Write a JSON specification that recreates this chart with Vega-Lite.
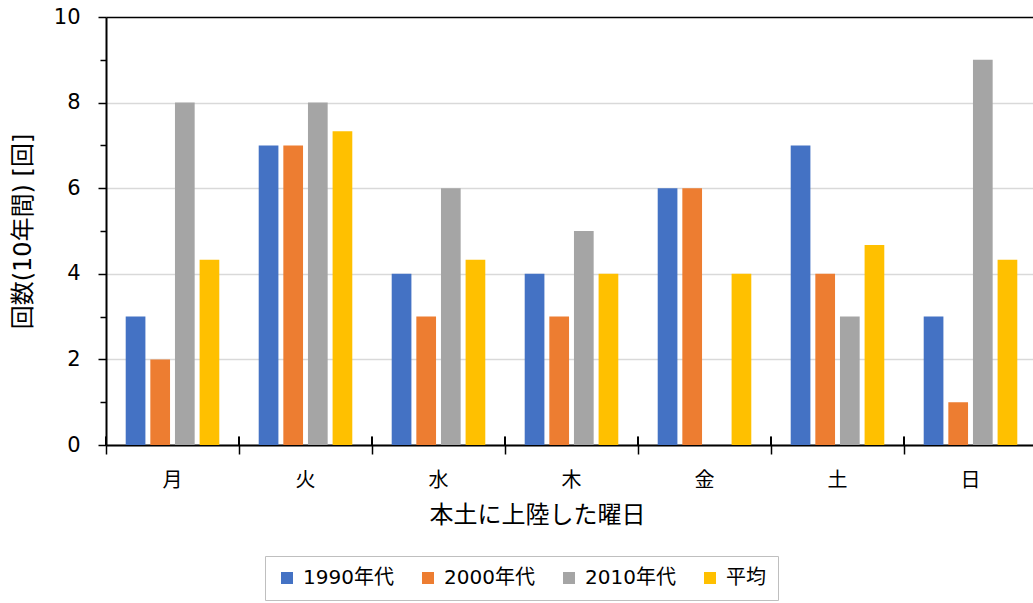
{
  "$schema": "https://vega.github.io/schema/vega-lite/v6.json",
  "description": "本土に上陸した曜日別の回数 (10年間)",
  "width": 931,
  "height": 428,
  "padding": {"left": 11, "top": 6, "right": 0, "bottom": 0},
  "config": {
    "view": {"stroke": null},
    "font": "DejaVu Sans, Noto Sans CJK JP",
    "axis": {"labelColor": "#000000", "titleColor": "#000000", "labelFontSize": 21, "titleFontSize": 24, "titleFontWeight": "normal", "domainColor": "#000000", "domainWidth": 2, "tickColor": "#000000", "tickWidth": 1.5},
    "legend": {"labelColor": "#000000", "labelFontSize": 20}
  },
  "data": {
    "values": [
      {"day": "月", "series": "1990年代", "count": 3},
      {"day": "月", "series": "2000年代", "count": 2},
      {"day": "月", "series": "2010年代", "count": 8},
      {"day": "月", "series": "平均", "count": 4.33},
      {"day": "火", "series": "1990年代", "count": 7},
      {"day": "火", "series": "2000年代", "count": 7},
      {"day": "火", "series": "2010年代", "count": 8},
      {"day": "火", "series": "平均", "count": 7.33},
      {"day": "水", "series": "1990年代", "count": 4},
      {"day": "水", "series": "2000年代", "count": 3},
      {"day": "水", "series": "2010年代", "count": 6},
      {"day": "水", "series": "平均", "count": 4.33},
      {"day": "木", "series": "1990年代", "count": 4},
      {"day": "木", "series": "2000年代", "count": 3},
      {"day": "木", "series": "2010年代", "count": 5},
      {"day": "木", "series": "平均", "count": 4},
      {"day": "金", "series": "1990年代", "count": 6},
      {"day": "金", "series": "2000年代", "count": 6},
      {"day": "金", "series": "2010年代", "count": 0},
      {"day": "金", "series": "平均", "count": 4},
      {"day": "土", "series": "1990年代", "count": 7},
      {"day": "土", "series": "2000年代", "count": 4},
      {"day": "土", "series": "2010年代", "count": 3},
      {"day": "土", "series": "平均", "count": 4.67},
      {"day": "日", "series": "1990年代", "count": 3},
      {"day": "日", "series": "2000年代", "count": 1},
      {"day": "日", "series": "2010年代", "count": 9},
      {"day": "日", "series": "平均", "count": 4.33}
    ]
  },
  "layer": [
    {
      "mark": {"type": "bar"},
      "encoding": {
        "x": {
          "field": "day",
          "type": "nominal",
          "sort": ["月", "火", "水", "木", "金", "土", "日"],
          "scale": {"paddingInner": 0, "paddingOuter": 0},
          "axis": {
            "title": "本土に上陸した曜日",
            "labelAngle": 0,
            "labelFontSize": 20,
            "bandPosition": 0,
            "tickSize": 9,
            "labelPadding": 16,
            "titlePadding": 13,
            "titleX": 431,
            "titleAnchor": null,
            "titleAlign": "center"
          }
        },
        "xOffset": {
          "field": "series",
          "type": "nominal",
          "sort": ["1990年代", "2000年代", "2010年代", "平均"],
          "scale": {"paddingInner": 0.2, "paddingOuter": 0.8}
        },
        "y": {
          "field": "count",
          "type": "quantitative",
          "title": "回数(10年間) [回]",
          "scale": {"domain": [0, 10], "nice": false},
          "axis": {
            "values": [0, 1, 2, 3, 4, 5, 6, 7, 8, 9, 10],
            "labelExpr": "datum.value % 2 === 1 ? '' : datum.label",
            "tickSize": {"condition": {"test": "datum.value % 2 === 1", "value": 6}, "value": 8},
            "gridColor": {"condition": {"test": "datum.value === 10", "value": "#000000"}, "value": "#d9d9d9"},
            "gridOpacity": {"condition": {"test": "datum.value % 2 === 1", "value": 0}, "value": 1},
            "gridWidth": 1.5,
            "labelPadding": 18,
            "titlePadding": 18
          }
        },
        "color": {
          "field": "series",
          "type": "nominal",
          "scale": {
            "domain": ["1990年代", "2000年代", "2010年代", "平均"],
            "range": ["#4472C4", "#ED7D31", "#A5A5A5", "#FFC000"]
          },
          "legend": {
            "title": null,
            "orient": "none",
            "direction": "horizontal",
            "legendX": 159,
            "legendY": 539,
            "padding": 12,
            "strokeColor": "#bfbfbf",
            "symbolType": "square",
            "symbolSize": 144,
            "symbolStrokeWidth": 0,
            "symbolOpacity": 1,
            "labelOffset": 6,
            "columnPadding": 24
          }
        }
      }
    },
    {
      "mark": {"type": "rule", "color": "#000000", "strokeWidth": 1.5},
      "encoding": {
        "x": {"field": "day", "type": "nominal", "bandPosition": 0, "sort": ["月", "火", "水", "木", "金", "土", "日"]},
        "y": {"datum": 0, "type": "quantitative"},
        "y2": {"datum": 0.19}
      }
    }
  ]
}
